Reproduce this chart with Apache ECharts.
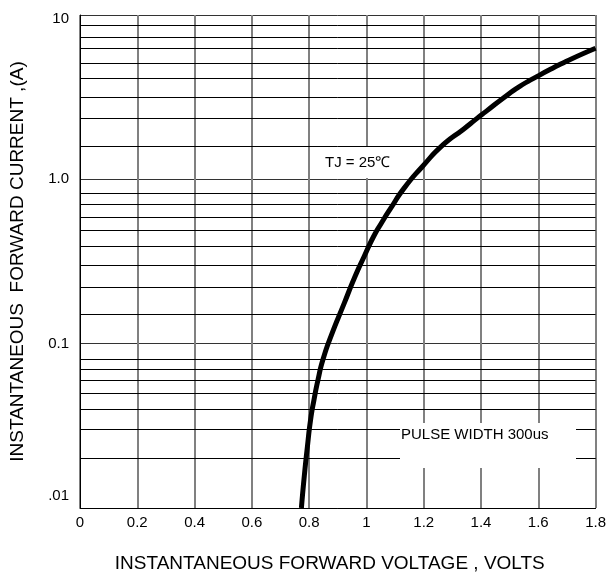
<!DOCTYPE html>
<html>
<head>
<meta charset="utf-8">
<script src="https://cdn.jsdelivr.net/npm/echarts@6/dist/echarts.min.js"></script>
<style>
  html, body { margin: 0; padding: 0; background: #ffffff; }
  #chart { width: 609px; height: 582px; }
</style>
</head>
<body>
<div id="chart"></div>
<script>
// forward voltage (V) vs instantaneous forward current (A)
var voltage = [0.773, 0.783, 0.794, 0.805, 0.817, 0.831, 0.848, 0.877, 0.923, 0.958, 0.992,
  1.025, 1.052, 1.085, 1.131, 1.194, 1.269, 1.339, 1.385, 1.419, 1.477, 1.534, 1.598, 1.650, 1.708, 1.800];
var current = [0.0100, 0.0156, 0.0237, 0.0344, 0.0456, 0.0603, 0.0798, 0.112, 0.177, 0.251, 0.339,
  0.449, 0.541, 0.668, 0.881, 1.189, 1.630, 2.02, 2.34, 2.60, 3.115, 3.664, 4.246, 4.743, 5.325, 6.274];

// horizontal minor grid lines as drawn on the sheet (not exact log positions)
var minorGrid = [0.0152, 0.0224, 0.0304, 0.0396, 0.0489, 0.0603, 0.0704, 0.0836,
  0.150, 0.221, 0.302, 0.390, 0.486, 0.593, 0.706, 0.824,
  1.604, 2.354, 3.142, 4.122, 5.085, 6.239, 7.318, 8.610];

var yTickValues = [0.01, 0.1, 1, 10];
var yTickLabels = ['.01', '0.1', '1.0', '10'];

var chart = echarts.init(document.getElementById('chart'));

var points = [];
for (var i = 0; i < voltage.length; i++) {
  points.push([voltage[i], current[i]]);
}

var minorLines = [];
for (var j = 0; j < minorGrid.length; j++) {
  minorLines.push({ yAxis: minorGrid[j] });
}

var font = '"Liberation Sans", Arial, sans-serif';

var option = {
  backgroundColor: '#ffffff',
  animation: false,
  grid: { left: 80, right: 9, top: 15, bottom: 74 },
  xAxis: {
    type: 'value',
    min: 0,
    max: 1.8,
    interval: 0.2,
    name: 'INSTANTANEOUS FORWARD VOLTAGE , VOLTS',
    nameLocation: 'middle',
    nameGap: 46,
    nameTextStyle: { color: '#000', fontSize: 19, fontFamily: font, padding: [0, 16, 0, 0] },
    axisLine: { lineStyle: { color: '#000', width: 1 } },
    axisTick: { show: false },
    axisLabel: { color: '#000', fontSize: 15, fontFamily: font, margin: 7 },
    splitLine: { show: true, lineStyle: { color: '#808080', width: 2 } }
  },
  yAxis: {
    type: 'log',
    min: 0.01,
    max: 10,
    logBase: 10,
    name: 'INSTANTANEOUS  FORWARD CURRENT ,(A)',
    nameLocation: 'middle',
    nameGap: 53,
    nameTextStyle: { color: '#000', fontSize: 19, fontFamily: font },
    axisLine: { show: true, lineStyle: { color: '#000', width: 1 } },
    axisTick: { show: false },
    axisLabel: {
      color: '#000',
      fontSize: 15,
      fontFamily: font,
      margin: 11,
      formatter: function (v) {
        for (var k = 0; k < yTickValues.length; k++) {
          if (Math.abs(v - yTickValues[k]) < yTickValues[k] * 1e-6) {
            if (k === 0) return '{low|' + yTickLabels[k] + '}';
            if (k === yTickValues.length - 1) return '{high|' + yTickLabels[k] + '}';
            return yTickLabels[k];
          }
        }
        return '';
      },
      rich: {
        low: { fontSize: 15, fontFamily: font, color: '#000', padding: [0, 0, 24, 0] },
        high: { fontSize: 15, fontFamily: font, color: '#000', padding: [8, 0, 0, 0] }
      }
    },
    splitLine: { show: true, lineStyle: { color: '#333', width: 1 } }
  },
  graphic: [
    {
      type: 'text',
      left: 322,
      top: 147,
      z: 100,
      style: {
        text: 'TJ = 25\u2103',
        fill: '#000',
        font: '15px ' + font,
        backgroundColor: '#fff',
        padding: [8, 3, 8, 3]
      }
    },
    {
      type: 'rect',
      shape: { x: 400, y: 423, width: 176, height: 45 },
      z: 99,
      style: { fill: '#fff' }
    },
    {
      type: 'text',
      left: 401,
      top: 427,
      z: 100,
      style: {
        text: 'PULSE WIDTH 300us',
        fill: '#000',
        font: '15px ' + font
      }
    }
  ],
  series: [
    {
      type: 'line',
      data: [],
      z: 1,
      silent: true,
      markLine: {
        silent: true,
        symbol: 'none',
        animation: false,
        label: { show: false },
        lineStyle: { color: '#000', width: 1, type: 'solid' },
        data: minorLines
      }
    },
    {
      type: 'line',
      data: points,
      smooth: 0.6,
      showSymbol: false,
      z: 5,
      lineStyle: { color: '#000', width: 5 }
    }
  ]
};

chart.setOption(option);
</script>
</body>
</html>
